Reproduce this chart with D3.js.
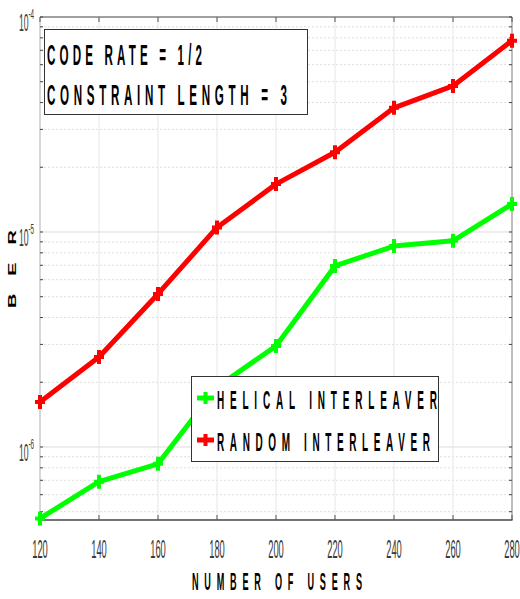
<!DOCTYPE html>
<html>
<head>
<meta charset="utf-8">
<script src="https://cdn.jsdelivr.net/npm/d3@7"></script>
<style>
  html, body { margin: 0; padding: 0; background: #fff; }
  svg { display: block; }
  text { font-family: "Liberation Sans", Arial, sans-serif; }
</style>
</head>
<body>
<svg id="chart" width="520" height="599"></svg>
<script>
// ---- data ----
const users = [120, 140, 160, 180, 200, 220, 240, 260, 280];
const helicalBER = [4.65e-7, 6.9e-7, 8.35e-7, 1.9e-6, 2.95e-6, 6.95e-6, 8.6e-6, 9.1e-6, 1.35e-5];
const randomBER  = [1.62e-6, 2.62e-6, 5.15e-6, 1.05e-5, 1.67e-5, 2.35e-5, 3.78e-5, 4.78e-5, 7.76e-5];
const xTicks = [120, 140, 160, 180, 200, 220, 240, 260, 280];
const yDecades = [-6, -5, -4];
const yDomain = [4.575e-7, 1e-4];
const seriesNames = ["HELICAL INTERLEAVER", "RANDOM INTERLEAVER"];
const seriesColors = ["#00ff00", "#ff0000"];
const infoLines = ["CODE RATE = 1/2", "CONSTRAINT LENGTH = 3"];
const xTitle = "NUMBER OF USERS";
const yTitle = "B E R";

// ---- layout ----
const L = 40, R = 512, T = 17, B = 520;
const svg = d3.select("#chart");
const x = d3.scaleLinear().domain([120, 280]).range([L, R]);
const y = d3.scaleLog().domain(yDomain).range([B, T]);

// scaled text helper (narrow, tall glyphs)
function stext(g, px, py, str, o) {
  const t = g.append("text")
    .attr("transform", `translate(${px},${py}) ${o.rot ? "rotate(" + o.rot + ")" : ""} scale(${o.sx},${o.sy || 1})`)
    .attr("font-size", o.size)
    .attr("font-weight", o.weight || "normal")
    .attr("fill", o.fill || "#000")
    .attr("text-anchor", o.anchor || "start")
    .text(str);
  if (o.len) t.attr("textLength", o.len / o.sx).attr("lengthAdjust", "spacing");
  return t;
}

// ---- grid ----
const grid = svg.append("g");
const minorVals = [];
for (let d = -7; d <= -5; d++) for (let m = 2; m <= 9; m++) {
  const v = m * Math.pow(10, d);
  if (v > yDomain[0] && v < yDomain[1]) minorVals.push(v);
}
grid.selectAll(".ymin").data(minorVals).enter().append("line")
  .attr("x1", L).attr("x2", R).attr("y1", d => y(d)).attr("y2", d => y(d))
  .attr("stroke", "#dedede").attr("stroke-width", 1).attr("stroke-dasharray", "2,2");
grid.selectAll(".ymaj").data(yDecades).enter().append("line")
  .attr("x1", L).attr("x2", R).attr("y1", d => y(Math.pow(10, d))).attr("y2", d => y(Math.pow(10, d)))
  .attr("stroke", "#dcdcdc").attr("stroke-width", 1);
grid.selectAll(".xg").data(xTicks).enter().append("line")
  .attr("x1", d => x(d)).attr("x2", d => x(d)).attr("y1", T).attr("y2", B)
  .attr("stroke", "#e6e6e6").attr("stroke-width", 1);

// ---- axes box ----
const ax = svg.append("g");
ax.append("line").attr("x1", L).attr("x2", R).attr("y1", T).attr("y2", T).attr("stroke", "#555");
ax.append("line").attr("x1", R).attr("x2", R).attr("y1", T).attr("y2", B).attr("stroke", "#888");
ax.append("line").attr("x1", L).attr("x2", L).attr("y1", T).attr("y2", B).attr("stroke", "#bbb");
ax.append("line").attr("x1", L - 0.5).attr("x2", R + 0.5).attr("y1", B).attr("y2", B).attr("stroke", "#444").attr("stroke-width", 1.5);

xTicks.forEach(v => {
  ax.append("line").attr("x1", x(v)).attr("x2", x(v)).attr("y1", B).attr("y2", B - 5).attr("stroke", "#555");
  ax.append("line").attr("x1", x(v)).attr("x2", x(v)).attr("y1", T).attr("y2", T + 5).attr("stroke", "#555");
});
minorVals.concat(yDecades.map(d => Math.pow(10, d))).forEach(v => {
  ax.append("line").attr("x1", L).attr("x2", L + 3).attr("y1", y(v)).attr("y2", y(v)).attr("stroke", "#444");
  ax.append("line").attr("x1", R).attr("x2", R - 3).attr("y1", y(v)).attr("y2", y(v)).attr("stroke", "#444");
});

xTicks.forEach(v => stext(ax, x(v), 558, String(v), { size: 26, sx: 0.36, anchor: "middle", fill: "#3a3a3a" }));
yDecades.forEach(d => {
  const yy = y(Math.pow(10, d));
  stext(ax, 28.5, yy + 14, "10", { size: 24, sx: 0.36, anchor: "end", fill: "#3a3a3a" });
  stext(ax, 28.5, yy + 2, String(d), { size: 15, sx: 0.42, anchor: "start", fill: "#3a3a3a" });
});

// axis titles
stext(svg, 277, 590, xTitle, { size: 24, sx: 0.38, anchor: "middle", weight: "bold", len: 170 });
stext(svg, 15.5, 269, yTitle, { size: 10.5, sx: 1.9, rot: -90, anchor: "middle", weight: "bold", len: 78 });

// ---- series ----
const plus = "M-5,0H5M0,-7V7";
const legPlus = "M-7,0H7M0,-6V6";
const seriesData = [helicalBER, randomBER];
const line = d3.line().x((d, i) => x(users[i])).y(d => y(d));
seriesData.forEach((vals, k) => {
  const g = svg.append("g");
  g.append("path").datum(vals).attr("d", line)
    .attr("fill", "none").attr("stroke", seriesColors[k]).attr("stroke-width", 5)
    .attr("stroke-linejoin", "round").attr("stroke-linecap", "round");
  g.selectAll("path.m").data(vals).enter().append("path").attr("class", "m")
    .attr("d", plus).attr("transform", (d, i) => `translate(${x(users[i])},${y(d)})`)
    .attr("stroke", seriesColors[k]).attr("stroke-width", 4).attr("fill", "none");
});

// ---- info box ----
const info = svg.append("g");
info.append("rect").attr("x", 44.5).attr("y", 29.5).attr("width", 263).attr("height", 85)
  .attr("fill", "#fff").attr("stroke", "#333").attr("stroke-width", 1);
stext(info, 47, 65, infoLines[0], { size: 29, sx: 0.4, weight: "bold", len: 155 });
stext(info, 47, 105, infoLines[1], { size: 29, sx: 0.4, weight: "bold", len: 240 });

// ---- legend ----
const leg = svg.append("g");
leg.append("rect").attr("x", 191.5).attr("y", 376.5).attr("width", 247).attr("height", 85)
  .attr("fill", "#fff").attr("stroke", "#333").attr("stroke-width", 1);
const legY = [398, 440];
const legLen = [220, 213];
seriesNames.forEach((name, k) => {
  leg.append("line").attr("x1", 197).attr("x2", 214).attr("y1", legY[k]).attr("y2", legY[k])
    .attr("stroke", seriesColors[k]).attr("stroke-width", 5);
  leg.append("path").attr("d", legPlus).attr("transform", `translate(205.5,${legY[k]})`)
    .attr("stroke", seriesColors[k]).attr("stroke-width", 4).attr("fill", "none");
  stext(leg, 217, legY[k] + 11, name, { size: 25, sx: 0.4, weight: "bold", len: legLen[k] });
});
</script>
</body>
</html>
